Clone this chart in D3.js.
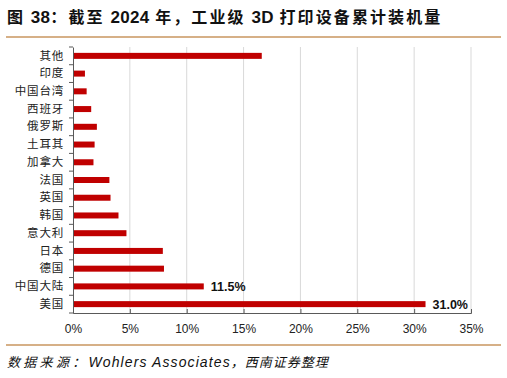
<!DOCTYPE html>
<html>
<head>
<meta charset="utf-8">
<script src="https://cdn.jsdelivr.net/npm/d3@7"></script>
<style>
  body { margin: 0; background: #fff; }
</style>
</head>
<body>
<div id="viz"></div>
<script>
const categories = ["其他", "印度", "中国台湾", "西班牙", "俄罗斯", "土耳其", "加拿大", "法国",
    "英国", "韩国", "意大利", "日本", "德国", "中国大陆", "美国"];
const shares = [16.6, 1.05, 1.2, 1.6, 2.1, 1.9, 1.8, 3.2, 3.3, 4.0, 4.7, 7.9, 8.0, 11.5, 31.0];
const labelled = ["中国大陆", "美国"];
const xTicks = [0, 5, 10, 15, 20, 25, 30, 35];

const W = 507, H = 378;
const margin = { left: 73, right: 36, top: 47, bottom: 65 };
const cjk = "'Noto Sans CJK SC', sans-serif";
const latin = "'Liberation Sans', Arial, sans-serif";

let svg = d3.select("#viz")
    .append("svg")
    .attr("width", W)
    .attr("height", H);

// title and rules
let title = svg.append("text")
    .attr("x", 7)
    .attr("y", 23)
    .style("font-family", cjk)
    .style("font-weight", "bold")
    .style("font-size", "16px")
    .style("letter-spacing", "2.1px")
    .attr("fill", "#111");
title.append("tspan").text("图 ");
title.append("tspan").style("font-family", latin).style("letter-spacing", "0.3px").style("font-size", "17px").text("38");
title.append("tspan").text("：截至 ");
title.append("tspan").style("font-family", latin).style("letter-spacing", "0.3px").style("font-size", "17px").text("2024");
title.append("tspan").text(" 年，工业级 ");
title.append("tspan").style("font-family", latin).style("letter-spacing", "0.3px").style("font-size", "17px").text("3D");
title.append("tspan").text(" 打印设备累计装机量");

svg.append("line")
    .attr("x1", 6).attr("x2", 501)
    .attr("y1", 37).attr("y2", 37)
    .attr("stroke", "#c9965f").attr("stroke-width", 1.5);

svg.append("line")
    .attr("x1", 6).attr("x2", 501)
    .attr("y1", 345).attr("y2", 345)
    .attr("stroke", "#c9965f").attr("stroke-width", 1.5);

let source = svg.append("text")
    .attr("x", 7)
    .attr("y", 367)
    .style("font-style", "italic")
    .style("font-size", "13px")
    .attr("fill", "#111");
source.append("tspan").style("font-family", cjk).style("letter-spacing", "3.3px").text("数据来源：");
source.append("tspan").style("font-family", latin).style("font-size", "14px").style("letter-spacing", "1.1px").text("Wohlers Associates");
source.append("tspan").style("font-family", cjk).style("letter-spacing", "1px").text("，西南证券整理");

const x = d3.scaleLinear()
    .domain([0, 35])
    .range([margin.left, W - margin.right]);

const y = d3.scaleBand()
    .domain(categories)
    .range([margin.top, H - margin.bottom]);

// gridlines
svg.append("g")
    .selectAll("line")
    .data(xTicks.slice(1))
    .join("line")
    .attr("x1", d => x(d)).attr("x2", d => x(d))
    .attr("y1", margin.top).attr("y2", H - margin.bottom)
    .attr("stroke", "#d9d9d9");

// bars
svg.append("g")
    .selectAll("rect")
    .data(categories)
    .join("rect")
    .attr("x", x(0))
    .attr("y", d => y(d) + y.bandwidth() / 2 - 3)
    .attr("width", (d, i) => x(shares[i]) - x(0))
    .attr("height", 6)
    .attr("fill", "#c00000");

// value labels
svg.append("g")
    .selectAll("text")
    .data(categories.filter(c => labelled.includes(c)))
    .join("text")
    .attr("x", d => x(shares[categories.indexOf(d)]) + 7)
    .attr("y", d => y(d) + y.bandwidth() / 2 + 4.5)
    .style("font-family", latin)
    .style("font-weight", "bold")
    .style("font-size", "12.5px")
    .attr("fill", "#111")
    .text(d => shares[categories.indexOf(d)].toFixed(1) + "%");

// x axis
let xAxis = svg.append("g")
    .attr("transform", `translate(0,${H - margin.bottom})`)
    .call(d3.axisTop(x).tickValues(xTicks).tickSize(4).tickFormat(d => d + "%"));
xAxis.select(".domain").attr("stroke", "#595959");
xAxis.selectAll(".tick line").attr("stroke", "#595959");
xAxis.selectAll(".tick text")
    .attr("y", 20)
    .style("font-family", latin)
    .style("font-size", "12px")
    .attr("fill", "#222");

// y axis
let yAxis = svg.append("g")
    .attr("transform", `translate(${margin.left},0)`)
    .call(d3.axisLeft(y).tickSize(0).tickPadding(9));
yAxis.select(".domain").attr("stroke", "#595959");
yAxis.selectAll(".tick text")
    .style("font-family", cjk)
    .style("font-size", "11.5px")
    .style("letter-spacing", "0.8px")
    .attr("fill", "#222");

// y ticks at band boundaries
svg.append("g")
    .selectAll("line")
    .data(d3.range(categories.length + 1))
    .join("line")
    .attr("x1", margin.left - 4).attr("x2", margin.left)
    .attr("y1", i => margin.top + i * y.step())
    .attr("y2", i => margin.top + i * y.step())
    .attr("stroke", "#595959");
</script>
</body>
</html>
